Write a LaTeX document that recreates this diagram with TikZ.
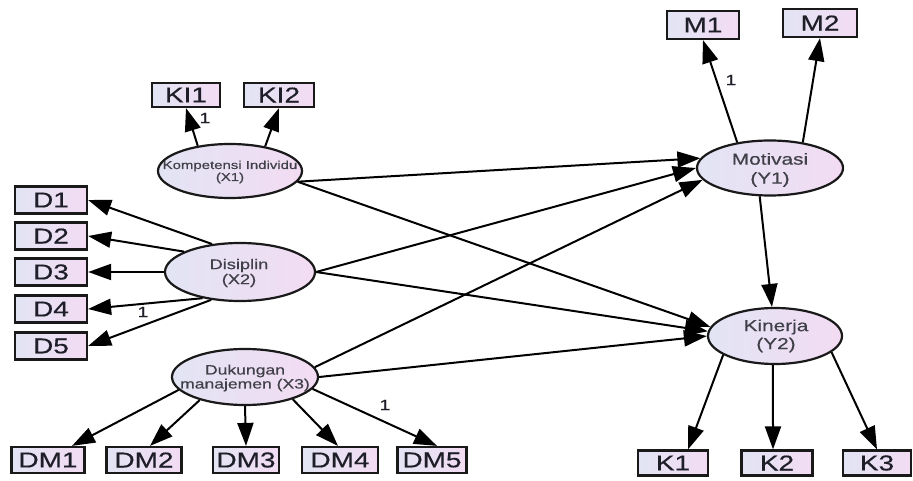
\documentclass[tikz,border=0pt]{standalone}
\usepackage{fontspec}
\newfontfamily\lbl{Liberation Sans}[FakeStretch=1.3,FakeBold=0.5]
\usetikzlibrary{arrows.meta,shapes.geometric}
\definecolor{fillL}{RGB}{226,228,244}
\definecolor{fillR}{RGB}{243,220,243}
\definecolor{txt}{RGB}{30,30,40}
\begin{document}
\begin{tikzpicture}[x=1pt,y=-1pt,
  obs/.style={draw=black!90, line width=2.2pt, rectangle, left color=fillL, right color=fillR,
    inner sep=0pt, minimum height=26pt, font=\lbl\fontsize{21.5}{21.5}\selectfont, text=txt},
  lat/.style={draw=black!90, line width=2.2pt, ellipse, left color=fillL, right color=fillR, inner sep=0pt},
  lattext/.style={align=center, text=txt!85, inner sep=0pt},
  arr/.style={draw=black, line width=2pt, -{Triangle[length=23pt,width=16pt]}},
  one/.style={font=\lbl\fontsize{15}{15}\selectfont, text=txt, inner sep=0pt}
]
\useasboundingbox (0,0) rectangle (913,481);

% observed boxes
\node[obs, minimum width=68pt, minimum height=24pt] (KI1) at (186,95) {KI1};
\node[obs, minimum width=70pt, minimum height=24pt] (KI2) at (279,95) {KI2};
\node[obs, minimum width=72pt, minimum height=27pt] (D1) at (51,200) {D1};
\node[obs, minimum width=72pt, minimum height=27pt] (D2) at (51,236) {D2};
\node[obs, minimum width=72pt, minimum height=27pt] (D3) at (51,272) {D3};
\node[obs, minimum width=72pt, minimum height=27pt] (D4) at (51,309) {D4};
\node[obs, minimum width=72pt, minimum height=27pt] (D5) at (51,346) {D5};
\node[obs, minimum width=73pt] (DM1) at (48,460) {DM1};
\node[obs, minimum width=75pt] (DM2) at (144,460) {DM2};
\node[obs, minimum width=66pt] (DM3) at (246,460) {DM3};
\node[obs, minimum width=76pt] (DM4) at (340,460) {DM4};
\node[obs, minimum width=69pt] (DM5) at (432,460) {DM5};
\node[obs, minimum width=72pt, minimum height=28pt] (M1) at (703,25) {M1};
\node[obs, minimum width=74pt, minimum height=28pt] (M2) at (820,23) {M2};
\node[obs, minimum width=70pt, minimum height=25pt] (K1) at (673,463) {K1};
\node[obs, minimum width=71pt, minimum height=25pt] (K2) at (777,463) {K2};
\node[obs, minimum width=68pt, minimum height=25pt] (K3) at (877,463) {K3};

% latent ellipses
\node[lat, minimum width=144pt, minimum height=54pt] (komp) at (230,171) {};
\node[lat, minimum width=150pt, minimum height=58pt] (dis) at (240,272) {};
\node[lat, minimum width=146pt, minimum height=56pt] (duk) at (245,377) {};
\node[lat, minimum width=146pt, minimum height=55pt] (mot) at (770,168) {};
\node[lat, minimum width=134pt, minimum height=56pt] (kin) at (775,336) {};

\node[lattext, font=\lbl\fontsize{11.5}{12}\selectfont] (kompT) at (230,172) {Kompetensi Individu\\(X1)};
\node[lattext, font=\lbl\fontsize{14}{15}\selectfont] (disT) at (239,273) {Disiplin\\(X2)};
\node[lattext, font=\lbl\fontsize{13.5}{14}\selectfont] (dukT) at (245,378) {Dukungan\\manajemen (X3)};
\node[lattext, font=\lbl\fontsize{16}{19}\selectfont] (motT) at (770,170) {Motivasi\\(Y1)};
\node[lattext, font=\lbl\fontsize{16}{18}\selectfont] (kinT) at (776,336) {Kinerja\\(Y2)};

% loadings
\draw[arr] (komp.142) -- (KI1.south);
\draw[arr] (komp.35) -- (KI2.south);
\draw[arr] (dis.135) -- (D1.east);
\draw[arr] (dis.160) -- (D2.east);
\draw[arr] (dis.180) -- (D3.east);
\draw[arr] (dis.215) -- (D4.east);
\draw[arr] (dis.224) -- (D5.east);
\draw[arr] (duk.191) -- ([xshift=24pt]DM1.north);
\draw[arr] (duk.207) -- ([xshift=6pt]DM2.north);
\draw[arr] (duk.270) -- (DM3.north);
\draw[arr] (duk.335) -- ([xshift=-2pt]DM4.north);
\draw[arr] (duk.-10) -- ([xshift=5pt]DM5.north);
\draw[arr] (mot.142) -- (M1.south);
\draw[arr] (mot.38) -- (M2.south);
\draw[arr] (kin.200) -- ([xshift=15pt]K1.north);
\draw[arr] (kin.266) -- ([xshift=-4pt]K2.north);
\draw[arr] (kin.-16) -- (K3.north);

% structural paths
\draw[arr] (komp.-9) -- (mot.172);
\draw[arr] (komp.-9) -- (kin.172);
\draw[arr] (dis.0) -- (mot.180);
\draw[arr] (dis.0) -- (kin.176);
\draw[arr] (duk.8) -- (mot.190);
\draw[arr] (duk.0) -- (kin.180);
\draw[arr] (mot.250) -- (kin.96);

% fixed-loading labels
\node[one] (l1) at (205,118) {1};
\node[one] (l2) at (143,312) {1};
\node[one] (l3) at (385,405) {1};
\node[one] (l4) at (731,80) {1};
\end{tikzpicture}
\end{document}
